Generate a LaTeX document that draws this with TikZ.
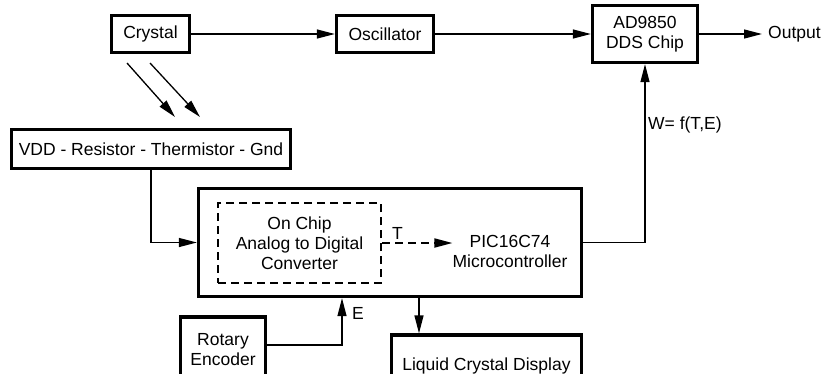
\documentclass[tikz,border=0pt]{standalone}
\usepackage{fontspec}
\setmainfont{Liberation Sans}
\usetikzlibrary{arrows.meta,positioning,calc}
\begin{document}
\begin{tikzpicture}[x=1pt,y=-1pt,
  every node/.style={font=\fontsize{17.5}{20}\selectfont},
  box/.style={draw,line width=3.3pt,align=center,inner sep=0pt},
  dbox/.style={draw,line width=2pt,dash pattern=on 8pt off 5pt,align=center,inner sep=0pt},
  conn/.style={line width=1.3pt},
  arr/.style={conn,-{Triangle[length=18pt,width=9pt]}},
  lbl/.style={inner sep=0pt}]
\clip (0,0) rectangle (831,373);
\fill[white] (0,0) rectangle (831,373);
% boxes
\node[box,minimum width=78pt,minimum height=37pt] (crystal) at (150.5,34) {Crystal};
\node[box,minimum width=97pt,minimum height=37pt] (osc) at (385,34) {Oscillator};
\node[box,minimum width=105pt,minimum height=57pt] (dds) at (645,34) {AD9850\\DDS Chip};
\node[lbl,anchor=west,inner xsep=6pt] (out) at (762,34) {Output};
\node[box,minimum width=279pt,minimum height=39pt] (vdd) at (151,149) {VDD - Resistor - Thermistor - Gnd};
\node[box,minimum width=383pt,minimum height=108pt] (micro) at (390,242.5) {};
\node[dbox,minimum width=163pt,minimum height=80pt] (adc) at (299.5,243) {On Chip\\Analog to Digital\\Converter};
\node[lbl,align=center] (pic) at (510,251) {PIC16C74\\Microcontroller};
\node[box,minimum width=85pt,minimum height=66pt] (rot) at (223,350) {Rotary\\Encoder};
\node[box,minimum width=190pt,minimum height=62pt] (lcd) at (486.5,366) {Liquid Crystal Display};
% connectors
\draw[arr] (crystal.east) -- (osc.west);
\draw[arr] (osc.east) -- (dds.west);
\draw[arr] (dds.east) -- (out.west);
\coordinate (d1a) at (127,63); \coordinate (d1b) at (175,117);
\coordinate (d2a) at (150,63); \coordinate (d2b) at (200,117);
\draw[arr] (d1a) -- (d1b);
\draw[arr] (d2a) -- (d2b);
\draw[arr] (vdd.south) |- (micro.west);
\draw[arr,dash pattern=on 8pt off 5pt,line width=1.8pt] (adc.east) -- (pic.west |- adc.east)
  node[pos=0.22,above=3pt,lbl] (tlbl) {T};
\draw[arr] (micro.east) -| (dds.south);
\node[lbl,anchor=west] (wlbl) at (648,125) {W= f(T,E)};
\coordinate (ec) at (342,345);
\draw[arr] (rot.east |- ec) -- (ec) -- (ec |- micro.south);
\node[lbl,anchor=west] (elbl) at (352,313) {E};
\coordinate (lx) at (419,0);
\draw[arr] (lx |- micro.south) -- (lx |- lcd.north);
\end{tikzpicture}
\end{document}
